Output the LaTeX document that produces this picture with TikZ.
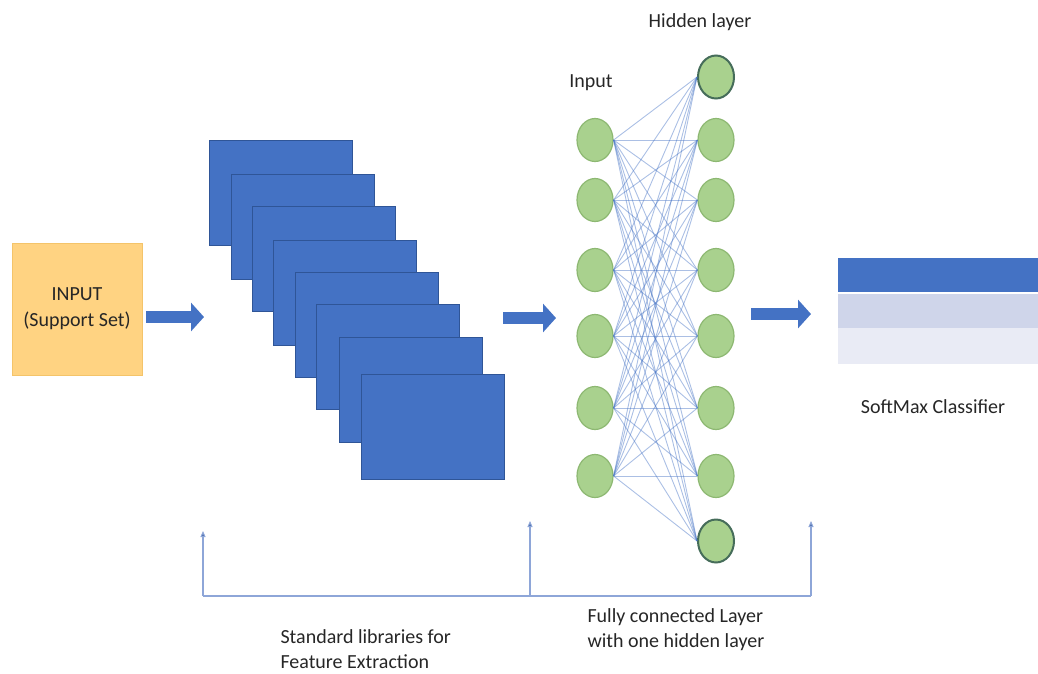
\documentclass[tikz,border=0pt]{standalone}
\usepackage{fontspec}
\setmainfont{Carlito}
\usetikzlibrary{arrows.meta,calc,shapes.geometric}

\definecolor{mapblue}{HTML}{4472C4}
\definecolor{mapedge}{HTML}{2F5597}
\definecolor{inorange}{HTML}{FFD382}
\definecolor{inorangeedge}{HTML}{F4C46A}
\definecolor{neurongreen}{HTML}{A9D18E}
\definecolor{neuronedge}{HTML}{8DB872}
\definecolor{neurondark}{HTML}{466D5A}
\definecolor{barmid}{HTML}{CFD5EA}
\definecolor{barlight}{HTML}{E9EBF5}
\definecolor{bracketblue}{HTML}{8EA6D8}
\definecolor{labelgray}{HTML}{262626}

\begin{document}
\begin{tikzpicture}[x=1pt,y=-1pt,
  every node/.style={font=\fontsize{20}{25}\selectfont, text=labelgray},
  inbox/.style={rectangle, fill=inorange, draw=inorangeedge, line width=0.6pt,
    minimum width=130pt, minimum height=132pt, inner sep=0pt, align=center},
  featmap/.style={rectangle, fill=mapblue, draw=mapedge, line width=0.8pt,
    minimum width=143pt, minimum height=105pt, inner sep=0pt, anchor=north west},
  neuron/.style={ellipse, fill=neurongreen, draw=neuronedge, line width=1.2pt,
    minimum width=36pt, minimum height=43pt, inner sep=0pt},
  outerneuron/.style={neuron, draw=neurondark, line width=2pt},
  synapse/.style={draw=mapblue, opacity=0.45, line width=0.9pt},
  bigarrow/.style={draw=mapblue, line width=12pt,
    -{Triangle[length=13pt,width=28pt]}},
  softbar/.style={rectangle, inner sep=0pt, minimum width=200pt, anchor=north west},
  bracket/.style={draw=bracketblue, line width=1.1pt},
  tipline/.style={bracket, -{Triangle[length=6pt,width=5pt,fill=mapedge]}},
]
\useasboundingbox (0,0) rectangle (1038,673);

% support-set input
\node[inbox] (inp) at (77,309) {INPUT\\[1pt](Support Set)};

% stack of feature maps
\foreach \i/\px/\py in {1/209/140,2/231/174,3/252/206,4/273/240,
                        5/295/272,6/316/304,7/339/337,8/361/374}
  \node[featmap] (fm\i) at (\px,\py) {};

% block arrows between stages
\coordinate (a1s) at (146,317);  \coordinate (a1e) at (204,317);
\coordinate (a2s) at (503,318);  \coordinate (a2e) at (556,318);
\coordinate (a3s) at (751,314);  \coordinate (a3e) at (811,314);
\draw[bigarrow] (a1s) -- (a1e);
\draw[bigarrow] (a2s) -- (a2e);
\draw[bigarrow] (a3s) -- (a3e);

% fully connected layer
\foreach \i/\py in {1/140,2/200,3/270,4/336,5/408,6/476}
  \node[neuron] (in\i) at (595,\py) {};
\foreach \j/\py in {2/140,3/200,4/270,5/336,6/408,7/476}
  \node[neuron] (h\j) at (716,\py) {};
\node[outerneuron] (h1) at (716,77) {};
\node[outerneuron] (h8) at (716,541) {};
\foreach \i in {1,...,6}
  \foreach \j in {1,...,8}
    \draw[synapse] (in\i.east) -- (h\j.west);

\node (inlabel) at (591,83) {Input};
\node (hidlabel) at (700,22) {Hidden layer};

% softmax classifier bars
\node[softbar, fill=mapblue, minimum height=34pt] (sm1) at (838,258) {};
\node[softbar, fill=barmid, minimum height=34pt] (sm2) at (838,294) {};
\node[softbar, fill=barlight, minimum height=36pt] (sm3) at (838,328) {};
\node (smlabel) at (933,407) {SoftMax Classifier};

% bracket under the stages
\coordinate (b1) at (203,596); \coordinate (t1) at (203,531);
\coordinate (b2) at (530,596); \coordinate (t2) at (530,521);
\coordinate (b3) at (811,596); \coordinate (t3) at (811,521);
\draw[bracket] (b1) -- (b3);
\draw[tipline] (b1) -- (t1);
\draw[tipline] (b2) -- (t2);
\draw[tipline] (b3) -- (t3);

\node[align=left, anchor=west] (featlabel) at (277,649)
  {Standard libraries for\\Feature Extraction};
\node[align=left, anchor=west] (fclabel) at (584,630)
  {Fully connected Layer\\with one hidden layer};
\end{tikzpicture}
\end{document}
